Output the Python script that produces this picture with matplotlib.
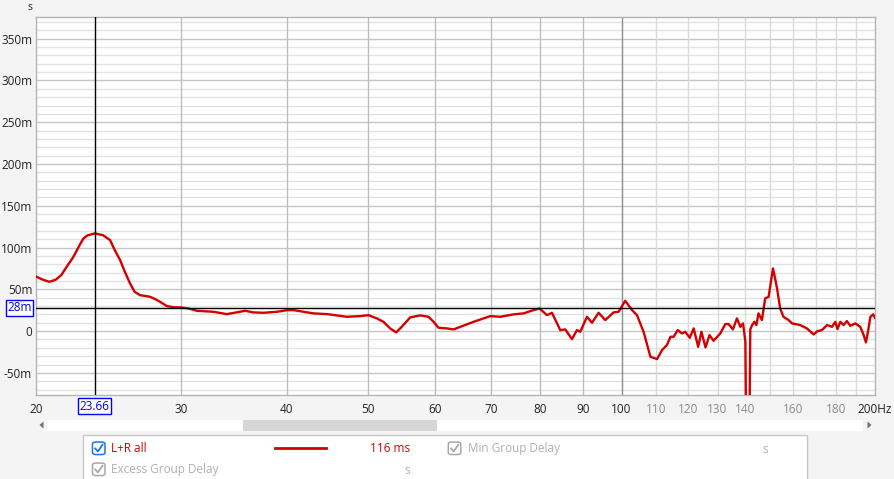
import matplotlib
matplotlib.use("Agg")
import matplotlib.pyplot as plt
from matplotlib.patches import Rectangle, FancyBboxPatch, Polygon
from matplotlib.lines import Line2D

plt.rcParams['font.family'] = ['Open Sans', 'DejaVu Sans']

# ---------------- data ----------------
freq_hz = [20.14, 20.5, 20.91, 21.27, 21.6, 21.92, 22.3, 22.74, 22.95, 23.2, 23.69, 24.2,
           24.68, 25.0, 25.37, 25.7, 26.07, 26.4, 26.79, 27.2, 27.54, 27.9, 28.3, 28.82,
           29.4, 30.0, 30.6, 31.3, 32.75, 33.97, 34.9, 35.72, 36.5, 37.55, 38.95,
           40.03, 40.76, 41.9, 43.05, 44.7, 47.17, 48.9, 50.05, 51.2, 52.14, 53.1,
           53.99, 54.8, 56.1, 57.65, 58.97, 59.8, 60.61, 62.0, 63.15, 66.71, 69.82,
           71.76, 74.42, 76.49, 77.9, 79.91, 81.54, 82.66, 84.56, 85.72, 87.31,
           88.51, 89.31, 90.97, 92.22, 93.9, 95.64, 97.83, 99.18, 101.0, 102.9,
           104.3, 106.2, 108.2, 110.2, 111.7, 113.2, 114.3, 115.3, 116.6, 118.0,
           119.0, 120.5, 121.8, 123.3, 124.4, 125.8, 127.2, 128.6, 131.0, 132.8,
           134.0, 135.6, 137.1, 138.4, 139.4, 140.3, 140.9, 141.5, 142.2, 142.9,
           143.8, 144.6, 145.4, 146.8, 148.1, 149.5, 151.3, 151.9, 153.0, 154.3,
           155.7, 157.9, 159.4, 163.0, 166.0, 169.1, 170.9, 173.0, 175.4, 177.8,
           179.4, 180.5, 181.9, 183.5, 185.2, 186.9, 189.5, 192.1, 193.9, 195.1,
           196.2, 197.5, 199.0, 200.0]
delay_ms = [65.5, 61.8, 59, 61.5, 67, 77, 88, 104, 110.9, 114.5, 117, 114.8,
            109, 97, 85, 71, 57, 47, 43, 42, 41, 38.5, 35, 30,
            28.5, 28.3, 27, 24.3, 23.1, 20.3, 22.4, 24.3, 22.4, 21.9, 23.1,
            25, 25.1, 23.1, 21.2, 20.3, 17.1, 17.9, 19.1, 15.2, 11.1, 3.2,
            -1.6, 5.1, 16.4, 18.8, 17.1, 11.1, 4, 3.2, 2, 11.1, 17.9,
            17.1, 20, 21.2, 23.9, 27.1, 19.1, 21.9, 1.2, 2, -9.6,
            1.2, -0.8, 17.1, 10, 21.9, 13.2, 22.4, 23.1, 36.3, 25.1,
            19.1, -0.8, -30.7, -33.5, -22.7, -16.7, -6.8, -6.8, 1.2, -2.8,
            -0.8, -8, 3.2, -18.8, -0.8, -19.5, -4.8, -11.6, -2.8, 8.4,
            8.4, 2.0, 15.2, 5.1, 9.2, -12.8, -250, -250, 2, 7.2,
            11.1, 7.2, 21.2, 13.2, 39.1, 41, 75, 67, 51.1, 27.1,
            17.1, 13.2, 9.2, 7.2, 3.2, -4, 0, 1.2, 7.2, 5.1,
            11.1, 2.4, 11.1, 7.2, 12, 6.3, 9.2, 5.1, -4.8, -13.5,
            -0.8, 17.1, 20, 15.9]

series_name = "L+R all"
cursor_freq = 23.66
cursor_value_ms = 28
cursor_readout = "116 ms"
other_series = ["Min Group Delay", "Excess Group Delay"]

x_major = [20.14, 30, 40, 50, 60, 70, 80, 90, 100, 200]
x_major_labels = ["20", "30", "40", "50", "60", "70", "80", "90", "100", "200Hz"]
x_minor = [110, 120, 130, 140, 150, 160, 170, 180, 190]
x_minor_labels = ["110", "120", "130", "140", "", "160", "", "180", ""]
y_major = [-50, 0, 50, 100, 150, 200, 250, 300, 350]
y_major_labels = ["-50m", "0", "50m", "100m", "150m", "200m", "250m", "300m", "350m"]

# ---------------- figure ----------------
W, H = 894, 479
fig = plt.figure(figsize=(W / 100, H / 100), dpi=100, facecolor="#f4f4f4")


def fx(x):
    return x / W


def fy(y):
    return 1 - y / H


L, R, T, B = 35.7, 875.0, 17.3, 395.0
ax = fig.add_axes([fx(L), fy(B), (R - L) / W, (B - T) / H])
ax.set_facecolor("white")
ax.set_xscale("log")
ax.set_xlim(20.14, 200)
ax.set_ylim(-76.5, 375.6)

# grid lines
for v in range(-70, 376, 10):
    if v % 50 == 0:
        ax.axhline(v, color="#c6c6c6", lw=1.0, zorder=1)
    else:
        ax.axhline(v, color="#e3e3e3", lw=1.0, zorder=0.9)
for f in x_major[1:-1]:
    ax.axvline(f, color="#8c8c8c" if f == 100 else "#bdbdbd", lw=1.0, zorder=1.1)
for f in x_minor:
    ax.axvline(f, color="#dadada", lw=1.0, zorder=1)

# ticks
ax.set_xticks(x_major)
ax.set_xticklabels(x_major_labels)
ax.set_xticks(x_minor, minor=True)
ax.set_xticklabels(x_minor_labels, minor=True)
ax.set_yticks(y_major)
ax.set_yticklabels(y_major_labels)
ax.set_yticks([], minor=True)
ax.tick_params(axis="x", which="both", length=0, pad=6, labelsize=8.5)
ax.tick_params(axis="x", which="major", labelcolor="#222222")
ax.tick_params(axis="x", which="minor", labelcolor="#8a8a8a")
ax.tick_params(axis="y", length=0, pad=2.5, labelsize=8.5, labelcolor="#222222")
for s in ax.spines.values():
    s.set_color("#b4b4b4")
    s.set_linewidth(1.0)

# curve
ax.plot(freq_hz, delay_ms, color="#d40000", lw=1.7, zorder=3, solid_joinstyle="round")

# cursor
ax.axvline(cursor_freq, color="black", lw=1.0, zorder=4)
ax.axhline(cursor_value_ms, color="black", lw=1.0, zorder=4)

# cursor readouts
fig.text(fx(94.5), fy(406.3), "23.66", color="#0000ff", fontsize=8.5, ha="center", va="center",
         bbox=dict(boxstyle="square,pad=0.12", fc="white", ec="#0000ff", lw=1))
fig.text(fx(19.3), fy(307.8), "28m", color="#0000ff", fontsize=8.5, ha="center", va="center",
         bbox=dict(boxstyle="square,pad=0.12", fc="white", ec="#0000ff", lw=1))

# unit label
fig.text(fx(30.5), fy(7.5), "s", color="#222222", fontsize=7.5, ha="center", va="center")

# scrollbar
fig.patches.append(Rectangle((fx(46.7), fy(430.5)), (862.7 - 46.7) / W, 11 / H,
                             transform=fig.transFigure, fc="white", ec="none"))
fig.patches.append(Rectangle((fx(243), fy(430.5)), (436.7 - 243) / W, 11 / H,
                             transform=fig.transFigure, fc="#d6d6d6", ec="none"))
fig.patches.append(Polygon([(fx(39.5), fy(425)), (fx(43.5), fy(421.5)), (fx(43.5), fy(428.5))],
                           closed=True, transform=fig.transFigure, fc="#707070", ec="none"))
fig.patches.append(Polygon([(fx(871.5), fy(425)), (fx(867.5), fy(421.5)), (fx(867.5), fy(428.5))],
                           closed=True, transform=fig.transFigure, fc="#707070", ec="none"))

# legend panel
fig.patches.append(Rectangle((fx(83.3), fy(481)), (806.7 - 83.3) / W, (481 - 435.3) / H,
                             transform=fig.transFigure, fc="white", ec="#c8c8c8", lw=1))


def checkbox(x, y, color):
    s = 12.5
    fig.patches.append(FancyBboxPatch((fx(x), fy(y + s / 2)), s / W, s / H,
                                      boxstyle="round,pad=0,rounding_size=0.004",
                                      transform=fig.transFigure, fc="white", ec=color, lw=1.1))
    fig.lines.append(Line2D([fx(x + 2.8), fx(x + 5.3), fx(x + 10)],
                            [fy(y + 0.2), fy(y + 3.2), fy(y - 3.5)],
                            transform=fig.transFigure, color=color, lw=1.3))


checkbox(92.5, 448.3, "#1e73e6")
fig.text(fx(111), fy(448.3), series_name, color="#d40000", fontsize=8.5, va="center", ha="left")
fig.lines.append(Line2D([fx(275), fx(325.7)], [fy(448), fy(448)], transform=fig.transFigure,
                        color="#d40000", lw=2))
fig.text(fx(410), fy(448.3), cursor_readout, color="#d40000", fontsize=8.5, va="center", ha="right")

checkbox(448.3, 448.3, "#a8a8a8")
fig.text(fx(468.3), fy(448.3), other_series[0], color="#b0b0b0", fontsize=8.5, va="center", ha="left")
fig.text(fx(765), fy(449.3), "s", color="#b0b0b0", fontsize=8.5, va="center", ha="center")

checkbox(92.5, 469.3, "#a8a8a8")
fig.text(fx(111), fy(469.3), other_series[1], color="#b0b0b0", fontsize=8.5, va="center", ha="left")
fig.text(fx(407), fy(470.3), "s", color="#b0b0b0", fontsize=8.5, va="center", ha="center")

fig.savefig("out.png", dpi=100, facecolor=fig.get_facecolor())
